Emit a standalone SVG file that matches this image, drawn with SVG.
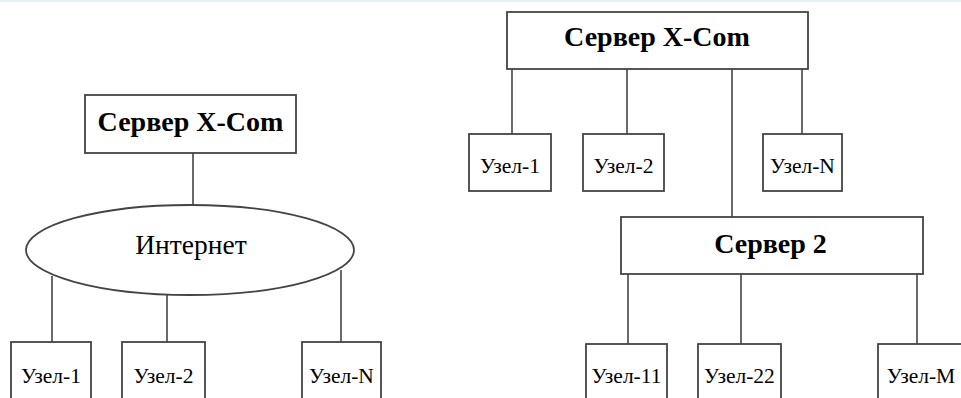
<svg xmlns="http://www.w3.org/2000/svg" width="961" height="398" viewBox="0 0 961 398">
<style>
.box{fill:#fff;stroke:#444;stroke-width:1.8}
.ln{stroke:#444;stroke-width:1.6;fill:none}
.t{font-family:"Liberation Serif","Times New Roman",serif;fill:#000;text-anchor:middle}
.b{font-weight:bold;font-size:28px}
.n{font-size:21.5px}
.i{font-size:27.5px}
</style>
<rect x="0" y="0" width="961" height="398" fill="#fff"/>
<rect x="0" y="0" width="961" height="2" fill="#e3f5f3"/>
<g id="connectors">
<line class="ln" x1="193" y1="153" x2="193" y2="205"/>
<line class="ln" x1="52" y1="276" x2="52" y2="342"/>
<line class="ln" x1="167" y1="295" x2="167" y2="342"/>
<line class="ln" x1="341" y1="270" x2="341" y2="342"/>
<line class="ln" x1="512" y1="69" x2="512" y2="134"/>
<line class="ln" x1="627" y1="69" x2="627" y2="134"/>
<line class="ln" x1="732" y1="69" x2="732" y2="217"/>
<line class="ln" x1="802" y1="69" x2="802" y2="134"/>
<line class="ln" x1="628" y1="274" x2="628" y2="344"/>
<line class="ln" x1="741" y1="274" x2="741" y2="344"/>
<line class="ln" x1="917" y1="274" x2="917" y2="344"/>
</g>
<g id="server-left">
<rect class="box" x="85" y="95" width="211" height="58"/>
<text class="t b" x="190.5" y="131">Сервер X-Com</text>
</g>
<g id="internet">
<ellipse class="box" cx="190" cy="250" rx="164" ry="45"/>
<text class="t i" x="191" y="254">Интернет</text>
</g>
<g id="left-node1">
<rect class="box" x="11" y="342" width="80" height="70"/>
<text class="t n" x="51" y="383">Узел-1</text>
</g>
<g id="left-node2">
<rect class="box" x="122" y="342" width="83" height="70"/>
<text class="t n" x="163.5" y="383">Узел-2</text>
</g>
<g id="left-nodeN">
<rect class="box" x="302" y="342" width="79" height="70"/>
<text class="t n" x="341.5" y="383">Узел-N</text>
</g>
<g id="server-right">
<rect class="box" x="507" y="12" width="301" height="57"/>
<text class="t b" x="657" y="46">Сервер X-Com</text>
</g>
<g id="right-node1">
<rect class="box" x="469" y="134" width="82" height="57"/>
<text class="t n" x="510" y="173">Узел-1</text>
</g>
<g id="right-node2">
<rect class="box" x="583" y="134" width="81" height="57"/>
<text class="t n" x="623.5" y="173">Узел-2</text>
</g>
<g id="right-nodeN">
<rect class="box" x="763" y="134" width="79" height="57"/>
<text class="t n" x="802.5" y="173">Узел-N</text>
</g>
<g id="server2">
<rect class="box" x="621" y="217" width="302" height="57"/>
<text class="t b" x="770.5" y="253">Сервер 2</text>
</g>
<g id="node11">
<rect class="box" x="586" y="344" width="81" height="70"/>
<text class="t n" x="626.5" y="383">Узел-11</text>
</g>
<g id="node22">
<rect class="box" x="698" y="344" width="83" height="70"/>
<text class="t n" x="739.5" y="383">Узел-22</text>
</g>
<g id="nodeM">
<rect class="box" x="878" y="344" width="90" height="70"/>
<text class="t n" x="921" y="383">Узел-M</text>
</g>
</svg>
